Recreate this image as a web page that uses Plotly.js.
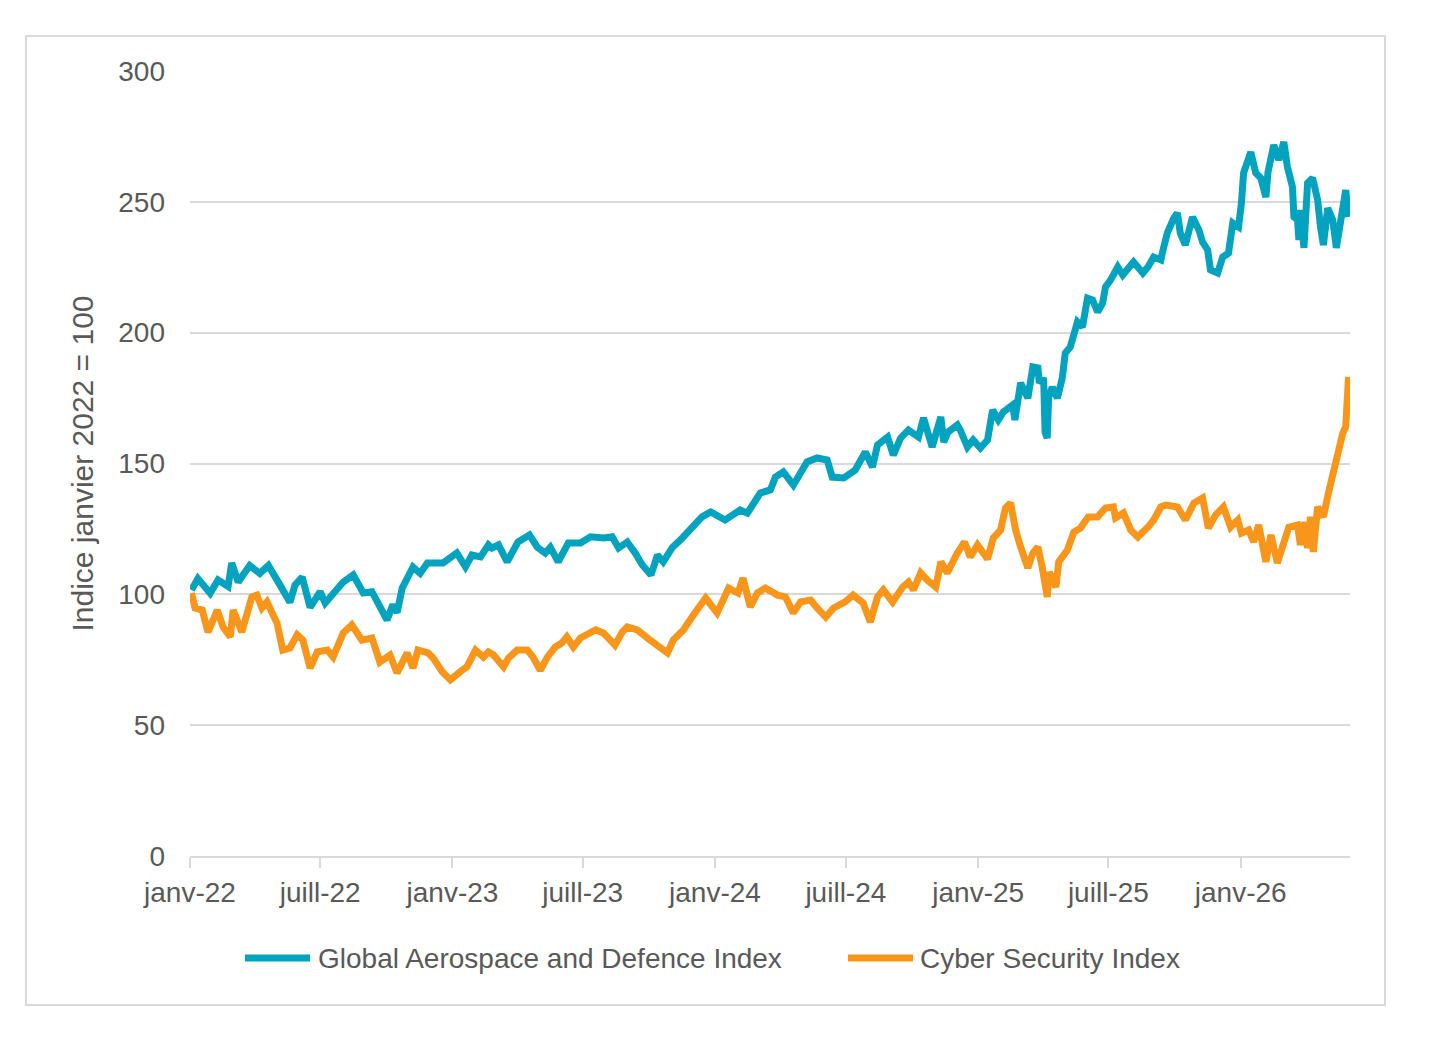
<!DOCTYPE html>
<html>
<head>
<meta charset="utf-8">
<script src="https://cdn.plot.ly/plotly-3.0.1.min.js"></script>
<style>
  html, body { margin: 0; padding: 0; background: #ffffff; }
  #chart { width: 1432px; height: 1038px; }
</style>
</head>
<body>
<div id="chart"></div>
<script>
// Global Aerospace and Defence Index (base janvier 2022 = 100)
const defenceDates = [
  '2022-01-03','2022-01-12','2022-01-29','2022-02-09','2022-02-23','2022-02-28','2022-03-09','2022-03-25',
  '2022-04-08','2022-04-20','2022-05-06','2022-05-20','2022-05-27','2022-06-06','2022-06-17','2022-07-01',
  '2022-07-08','2022-07-19','2022-08-02','2022-08-16','2022-08-30','2022-09-11','2022-09-22','2022-10-02',
  '2022-10-10','2022-10-16','2022-10-23','2022-10-30','2022-11-07','2022-11-17','2022-11-27','2022-12-19',
  '2023-01-07','2023-01-19','2023-01-28','2023-02-09','2023-02-20','2023-02-25','2023-03-06','2023-03-18',
  '2023-03-25','2023-04-02','2023-04-18','2023-04-29','2023-05-10','2023-05-17','2023-05-28','2023-06-11',
  '2023-06-28','2023-07-12','2023-07-30','2023-08-11','2023-08-20','2023-09-01','2023-09-12','2023-09-22',
  '2023-10-04','2023-10-13','2023-10-21','2023-11-03','2023-11-14','2023-11-30','2023-12-14','2023-12-26',
  '2024-01-08','2024-01-15','2024-02-05','2024-02-15','2024-03-04','2024-03-18','2024-03-25','2024-04-05',
  '2024-04-19','2024-04-29','2024-05-08','2024-05-22','2024-06-05','2024-06-12','2024-06-28','2024-07-14',
  '2024-07-28','2024-08-07','2024-08-14','2024-08-28','2024-09-05','2024-09-15','2024-09-26','2024-10-10',
  '2024-10-17','2024-10-29','2024-11-10','2024-11-14','2024-11-20','2024-12-03','2024-12-07','2024-12-17',
  '2024-12-25','2025-01-04','2025-01-14','2025-01-21','2025-01-29','2025-02-05','2025-02-18','2025-02-21',
  '2025-03-01','2025-03-11','2025-03-18','2025-03-25','2025-03-27','2025-04-02','2025-04-04','2025-04-07',
  '2025-04-09','2025-04-14','2025-04-21','2025-04-28','2025-05-02','2025-05-09','2025-05-14','2025-05-19',
  '2025-05-26','2025-06-02','2025-06-09','2025-06-16','2025-06-23','2025-06-27','2025-07-04','2025-07-14',
  '2025-07-21','2025-07-28','2025-08-05','2025-08-18','2025-08-25','2025-09-02','2025-09-12','2025-09-15',
  '2025-09-21','2025-09-30','2025-10-05','2025-10-09','2025-10-16','2025-10-26','2025-11-04','2025-11-09',
  '2025-11-16','2025-11-20','2025-11-30','2025-12-07','2025-12-15','2025-12-21','2025-12-29','2026-01-02',
  '2026-01-05','2026-01-15','2026-01-22','2026-01-29','2026-02-05','2026-02-08','2026-02-16','2026-02-23',
  '2026-03-02','2026-03-07','2026-03-14','2026-03-16','2026-03-21','2026-03-23','2026-03-25','2026-03-30',
  '2026-04-04','2026-04-11','2026-04-18','2026-04-22','2026-04-26','2026-05-02','2026-05-09','2026-05-14',
  '2026-05-20','2026-05-27','2026-05-31'
];
const defenceValues = [
  101.6, 106.0, 100.4, 105.5, 103.0, 112.0, 104.7, 111.0,
  108.0, 111.0, 103.6, 97.0, 103.6, 106.6, 95.0, 101.0,
  96.7, 100.5, 104.7, 107.4, 100.5, 101.0, 95.2, 90.2,
  96.0, 93.0, 102.4, 106.6, 110.4, 108.0, 112.0, 112.0,
  115.8, 110.5, 115.0, 114.3, 118.9, 117.7, 118.9, 112.4,
  115.8, 120.0, 122.7, 118.0, 115.8, 118.0, 112.4, 119.6,
  119.6, 122.0, 121.5, 122.0, 117.7, 120.0, 115.8, 111.2,
  107.4, 115.0, 112.4, 118.0, 120.8, 125.7, 129.6, 131.5,
  129.2, 128.4, 132.2, 131.0, 138.7, 139.9, 144.8, 146.8,
  141.8, 146.4, 150.6, 152.1, 151.3, 144.8, 144.5, 147.5,
  154.4, 148.7, 157.1, 160.1, 153.2, 159.7, 162.8, 160.1,
  167.4, 156.3, 167.8, 158.2, 162.0, 164.7, 162.8, 156.3,
  159.0, 155.9, 159.0, 170.4, 166.6, 169.7, 172.4, 166.6,
  180.8, 175.0, 186.9, 186.5, 180.8, 182.7, 162.0, 159.7,
  175.4, 179.2, 175.0, 182.7, 192.2, 194.5, 199.9, 204.1,
  202.2, 213.2, 212.5, 207.9, 211.3, 217.5, 220.1, 225.1,
  222.0, 224.7, 227.0, 222.8, 225.1, 228.9, 227.8, 231.6,
  238.1, 243.8, 245.7, 238.1, 233.5, 244.2, 239.2, 234.6,
  231.6, 224.0, 222.8, 228.9, 230.4, 241.9, 240.4, 249.5,
  261.0, 269.0, 261.0, 259.1, 251.8, 261.4, 271.7, 266.0,
  272.9, 263.3, 255.7, 244.2, 243.1, 235.4, 246.9, 232.4,
  257.2, 259.1, 250.7, 240.4, 233.5, 247.6, 243.1, 232.4,
  243.1, 254.5, 244.2
];

// Cyber Security Index (base janvier 2022 = 100)
const cyberDates = [
  '2022-01-03','2022-01-08','2022-01-18','2022-01-26','2022-02-08','2022-02-16','2022-02-26','2022-03-02',
  '2022-03-14','2022-03-28','2022-04-04','2022-04-11','2022-04-18','2022-05-02','2022-05-10','2022-05-20',
  '2022-05-30','2022-06-07','2022-06-17','2022-06-27','2022-07-11','2022-07-19','2022-08-02','2022-08-14',
  '2022-08-28','2022-09-11','2022-09-22','2022-10-06','2022-10-16','2022-10-30','2022-11-07','2022-11-14',
  '2022-11-28','2022-12-05','2022-12-18','2022-12-29','2023-01-12','2023-01-21','2023-02-02','2023-02-13',
  '2023-02-20','2023-02-27','2023-03-13','2023-03-20','2023-04-01','2023-04-15','2023-04-23','2023-05-03',
  '2023-05-13','2023-05-24','2023-06-02','2023-06-09','2023-06-18','2023-06-28','2023-07-19','2023-07-30',
  '2023-08-15','2023-08-25','2023-09-01','2023-09-15','2023-10-03','2023-10-27','2023-11-04','2023-11-18',
  '2023-12-02','2023-12-19','2024-01-04','2024-01-20','2024-02-02','2024-02-09','2024-02-19','2024-02-29',
  '2024-03-11','2024-03-28','2024-04-08','2024-04-19','2024-04-29','2024-05-13','2024-05-22','2024-06-03',
  '2024-06-14','2024-06-30','2024-07-11','2024-07-25','2024-08-04','2024-08-14','2024-08-22','2024-09-04',
  '2024-09-18','2024-09-26','2024-10-03','2024-10-13','2024-10-22','2024-11-03','2024-11-10','2024-11-19',
  '2024-12-03','2024-12-13','2024-12-21','2024-12-31','2025-01-14','2025-01-22','2025-02-01','2025-02-08',
  '2025-02-15','2025-02-22','2025-03-01','2025-03-11','2025-03-18','2025-03-25','2025-03-31','2025-04-07',
  '2025-04-10','2025-04-19','2025-04-23','2025-05-05','2025-05-14','2025-05-23','2025-06-03','2025-06-16',
  '2025-06-27','2025-07-08','2025-07-11','2025-07-22','2025-08-01','2025-08-11','2025-08-25','2025-09-02',
  '2025-09-12','2025-09-19','2025-10-05','2025-10-16','2025-10-28','2025-11-09','2025-11-17','2025-11-27',
  '2025-12-08','2025-12-18','2025-12-28','2026-01-02','2026-01-12','2026-01-19','2026-01-26','2026-02-01',
  '2026-02-05','2026-02-12','2026-02-21','2026-02-28','2026-03-09','2026-03-21','2026-03-25','2026-03-31',
  '2026-04-04','2026-04-08','2026-04-12','2026-04-18','2026-04-26','2026-05-03','2026-05-09','2026-05-16',
  '2026-05-23','2026-05-27','2026-05-28','2026-05-31'
];
const cyberValues = [
  100.5, 94.8, 94.0, 85.6, 94.0, 87.5, 83.7, 94.0,
  85.6, 99.0, 99.7, 94.8, 97.1, 89.0, 78.7, 79.5,
  84.5, 82.5, 71.8, 78.0, 78.7, 76.0, 85.2, 88.3,
  82.5, 83.3, 74.1, 76.8, 70.0, 77.6, 71.8, 78.7,
  77.6, 75.7, 70.3, 67.3, 70.5, 72.3, 78.7, 76.0,
  78.0, 76.8, 72.3, 75.7, 78.7, 78.7, 76.0, 71.0,
  76.0, 79.9, 81.4, 83.7, 79.9, 83.3, 86.4, 85.2,
  80.6, 85.6, 87.5, 86.4, 82.5, 77.6, 82.5, 86.4,
  92.1, 98.6, 92.9, 102.4, 100.5, 106.2, 95.2, 100.5,
  102.4, 99.7, 99.0, 92.9, 97.1, 97.8, 94.8, 91.3,
  94.8, 97.1, 99.7, 96.7, 89.4, 99.0, 101.7, 97.1,
  102.8, 104.7, 101.7, 108.2, 105.5, 102.8, 112.4, 108.2,
  115.8, 120.0, 114.3, 118.9, 113.5, 121.5, 124.5, 133.0,
  134.9, 124.6, 118.1, 110.1, 115.8, 118.1, 110.4, 99.0,
  108.5, 102.8, 112.4, 116.9, 123.8, 125.3, 129.6, 129.6,
  133.0, 133.4, 129.2, 131.1, 124.6, 121.9, 125.7, 128.4,
  133.4, 134.1, 133.4, 128.4, 134.9, 136.8, 125.3, 130.3,
  133.4, 125.7, 128.4, 123.4, 124.6, 120.0, 126.5, 119.6,
  112.4, 122.7, 112.0, 118.1, 125.7, 126.5, 118.9, 127.6,
  117.7, 129.6, 116.2, 133.4, 129.6, 138.7, 146.4, 152.5,
  161.7, 164.0, 173.1, 183.1
];

const seriesNames = ['Global Aerospace and Defence Index', 'Cyber Security Index'];
const seriesColors = ['#03A3BF', '#F7961B'];

const tickDates = ['2022-01-01','2022-07-01','2023-01-01','2023-07-01','2024-01-01',
                   '2024-07-01','2025-01-01','2025-07-01','2026-01-01'];
const tickLabels = ['janv-22','juill-22','janv-23','juill-23','janv-24',
                    'juill-24','janv-25','juill-25','janv-26'];
const yTicks = [0, 50, 100, 150, 200, 250, 300];

const textColor = '#595959';
const gridColor = '#d9d9d9';
const fontFamily = '"Liberation Sans", Arial, sans-serif';
const fontSize = 28;

// page geometry (pixels)
const W = 1432, H = 1038;
const M = { l: 190, r: 82, t: 71, b: 182 };
const plotW = W - M.l - M.r, plotH = H - M.t - M.b;
const px = x => (x - M.l) / plotW;          // page x -> paper x
const py = y => (H - M.b - y) / plotH;      // page y -> paper y

const traces = [
  { x: defenceDates, y: defenceValues },
  { x: cyberDates, y: cyberValues }
].map((s, i) => ({
  type: 'scatter',
  mode: 'lines',
  name: seriesNames[i],
  x: s.x,
  y: s.y,
  line: { color: seriesColors[i], width: 7, shape: 'linear' },
  showlegend: false,
  hoverinfo: 'skip'
}));

// legend drawn below the axis: swatch + label per series
const legendY = py(958);
const legendItems = [
  { x0: 245, x1: 310, tx: 316 },
  { x0: 848, x1: 913, tx: 918 }
];
const shapes = [
  // outer chart frame
  { type: 'rect', xref: 'paper', yref: 'paper',
    x0: px(26), x1: px(1385), y0: py(1005), y1: py(36),
    line: { color: gridColor, width: 2 }, fillcolor: 'rgba(0,0,0,0)', layer: 'below' }
];
const annotations = [];
legendItems.forEach((it, i) => {
  shapes.push({ type: 'line', xref: 'paper', yref: 'paper',
    x0: px(it.x0), x1: px(it.x1), y0: legendY, y1: legendY,
    line: { color: seriesColors[i], width: 7 } });
  annotations.push({ xref: 'paper', yref: 'paper', x: px(it.tx), y: legendY,
    xanchor: 'left', yanchor: 'middle', showarrow: false, text: seriesNames[i],
    font: { family: fontFamily, size: fontSize, color: textColor } });
});

const layout = {
  width: W, height: H,
  margin: M,
  paper_bgcolor: '#ffffff',
  plot_bgcolor: '#ffffff',
  font: { family: fontFamily, size: fontSize, color: textColor },
  showlegend: false,
  xaxis: {
    type: 'date',
    range: ['2022-01-01', '2026-06-02'],
    tickmode: 'array',
    tickvals: tickDates,
    ticktext: tickLabels,
    showgrid: false,
    showline: true,
    linecolor: gridColor,
    linewidth: 2,
    ticks: 'outside',
    ticklen: 10,
    tickwidth: 2,
    tickcolor: gridColor,
    tickfont: { family: fontFamily, size: fontSize, color: textColor },
    zeroline: false,
    fixedrange: true
  },
  yaxis: {
    range: [0, 300],
    tickmode: 'array',
    tickvals: yTicks,
    showgrid: true,
    gridcolor: gridColor,
    gridwidth: 2,
    zeroline: false,
    showline: false,
    ticks: '',
    ticklabelstandoff: 24,
    tickfont: { family: fontFamily, size: fontSize, color: textColor },
    title: { text: 'Indice janvier 2022 = 100', standoff: 15,
             font: { family: fontFamily, size: 30, color: textColor } },
    fixedrange: true
  },
  shapes: shapes,
  annotations: annotations
};

Plotly.newPlot('chart', traces, layout, { staticPlot: true, displayModeBar: false });
</script>
</body>
</html>
